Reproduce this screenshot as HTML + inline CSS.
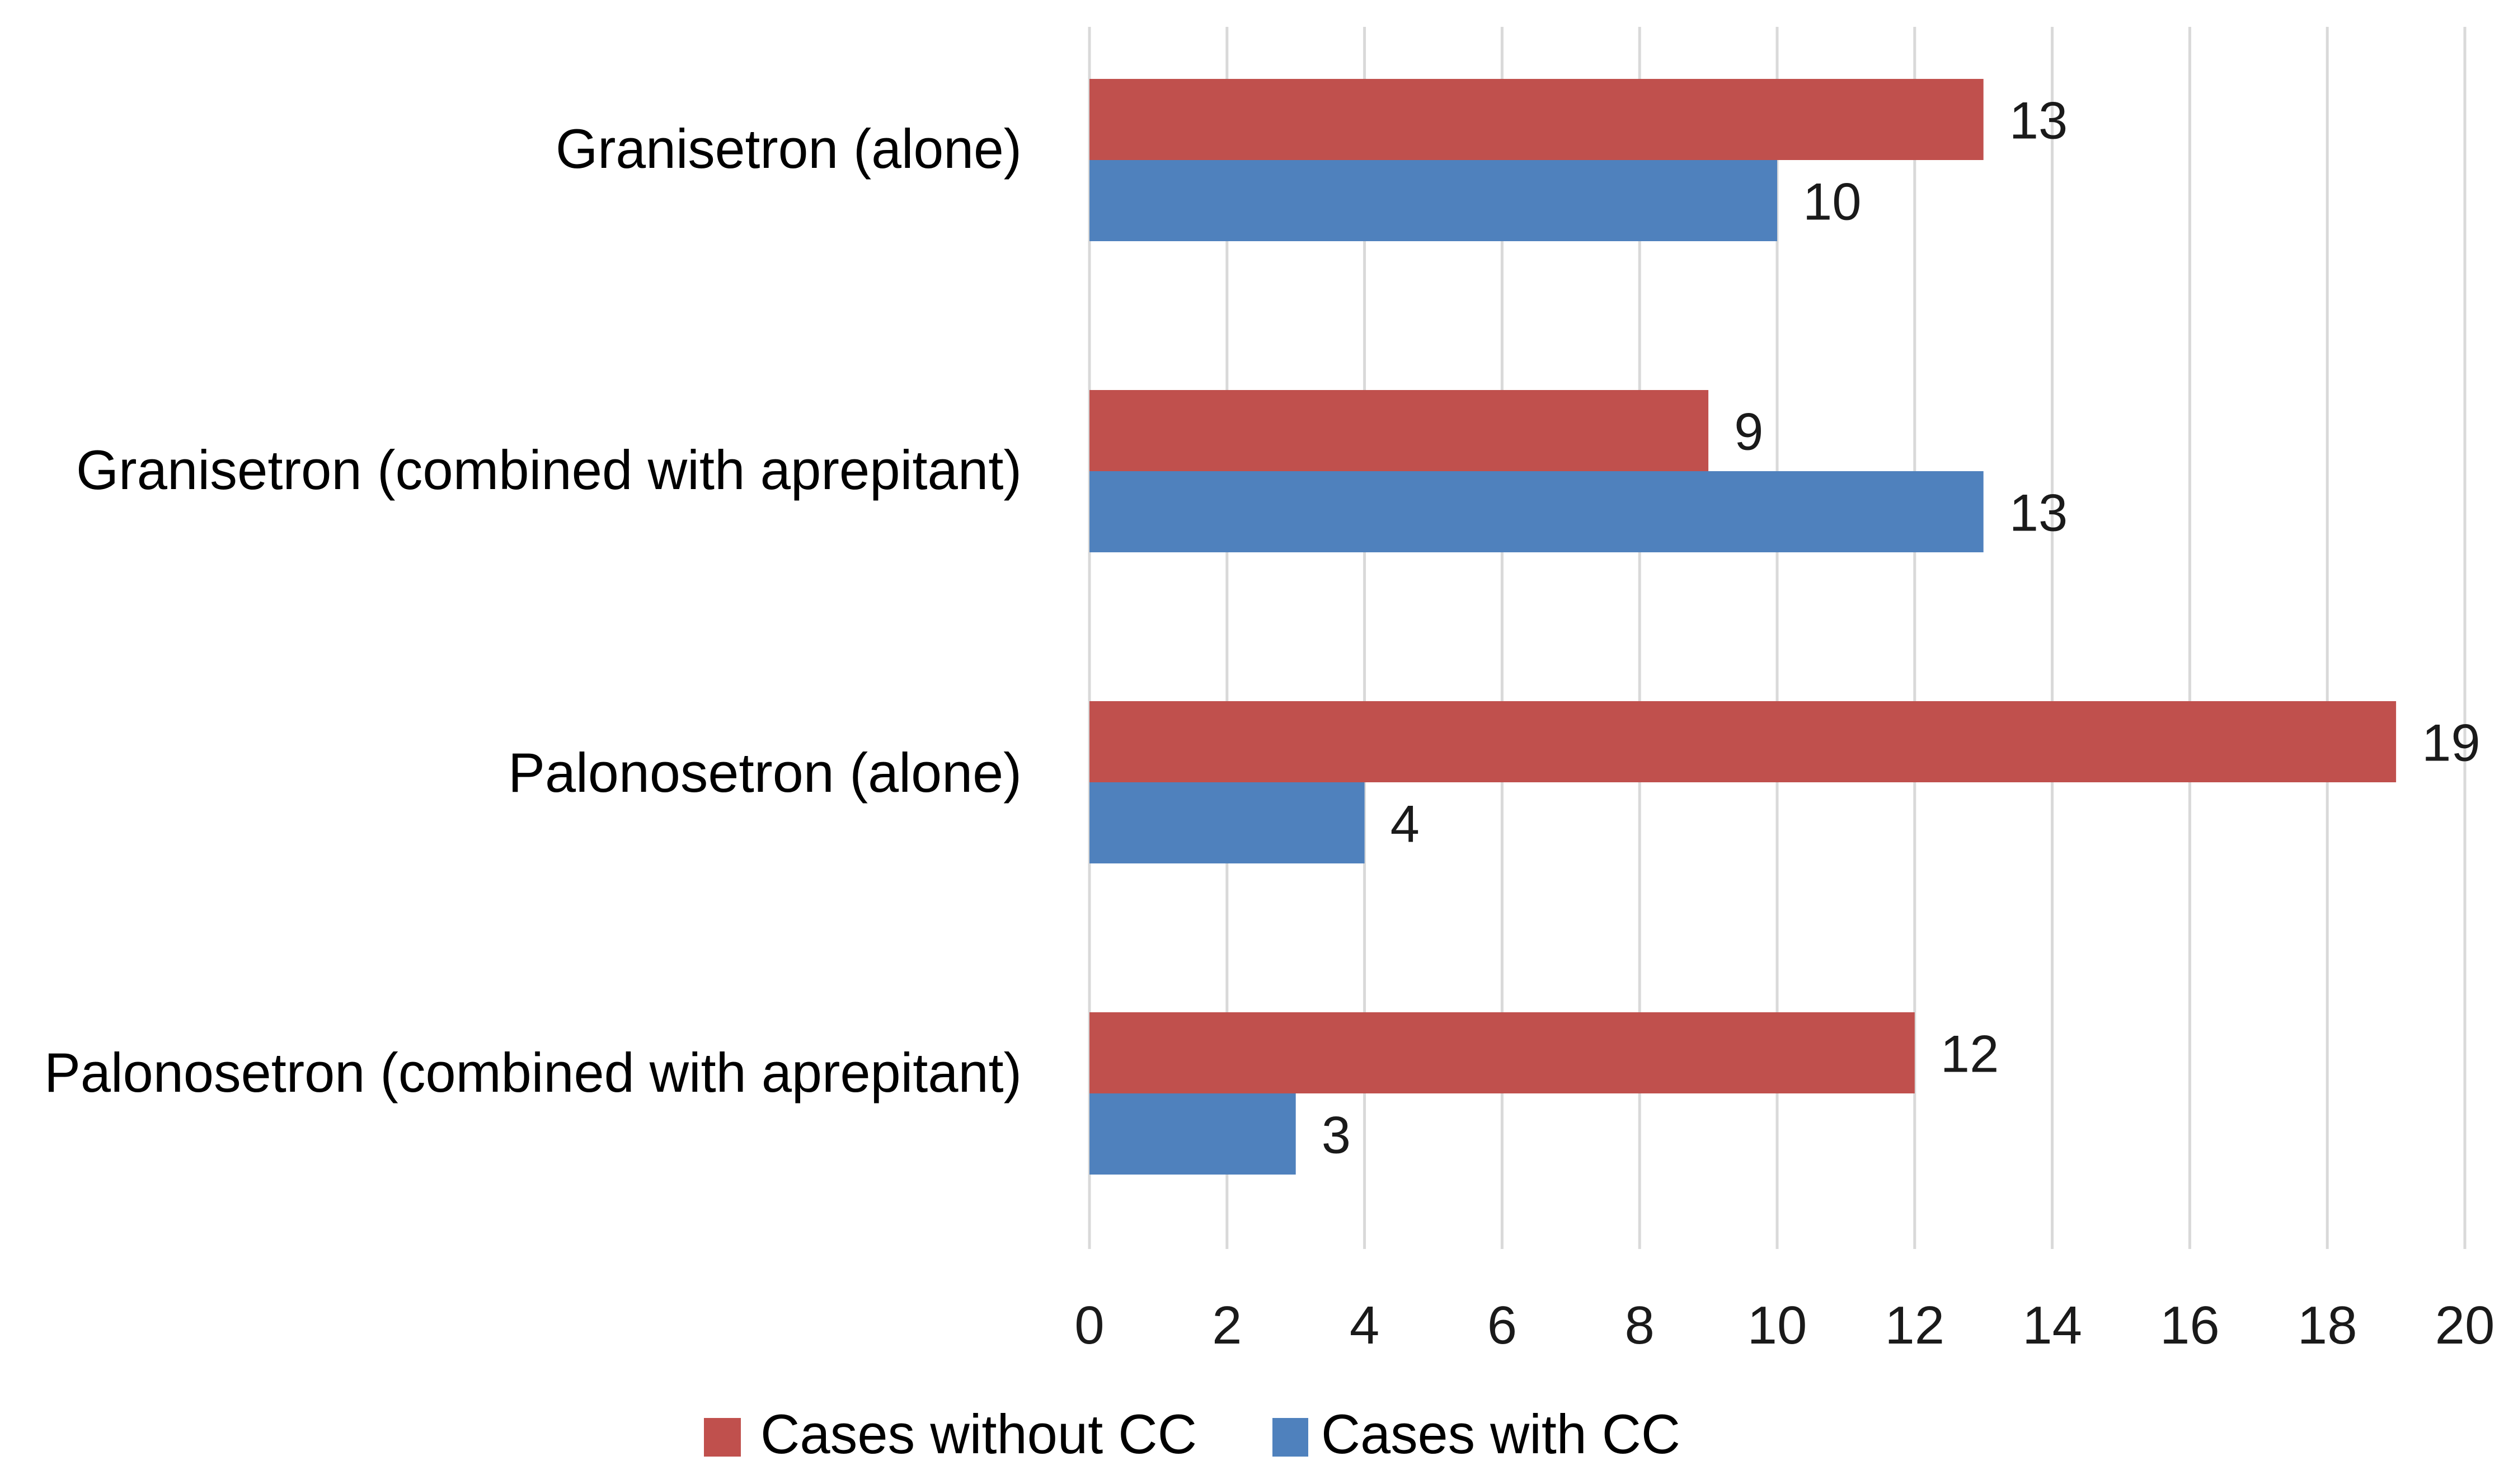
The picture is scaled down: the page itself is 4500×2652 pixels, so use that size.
<!DOCTYPE html>
<html><head><meta charset="utf-8">
<style>
html,body{margin:0;padding:0;background:#fff;}
svg{display:block;}
text{font-family:"Liberation Sans",sans-serif;}
</style></head>
<body>
<svg id="chart" width="4500" height="2652" viewBox="0 0 4500 2652" xmlns="http://www.w3.org/2000/svg">
<rect x="0" y="0" width="4500" height="2652" fill="#fff"/>
<g id="grid"></g>
<g id="bars"></g>
<g id="labels"></g>
<g>
  <g>
    <rect x="1258" y="2534" width="66" height="69" fill="#C0504D"/>
    <text x="1359" y="2597" font-size="99" fill="#000" textLength="780" lengthAdjust="spacingAndGlyphs">Cases without CC</text>
  </g>
  <g>
    <rect x="2274" y="2534" width="64" height="69" fill="#4F81BD"/>
    <text x="2361" y="2597" font-size="99" fill="#000" textLength="642" lengthAdjust="spacingAndGlyphs">Cases with CC</text>
  </g>
</g>
</svg>
<script>
const categories = ["Granisetron (alone)", "Granisetron (combined with aprepitant)", "Palonosetron (alone)", "Palonosetron (combined with aprepitant)"];
const withoutCC = [13, 9, 19, 12];
const withCC = [10, 13, 4, 3];
const xTicks = [0, 2, 4, 6, 8, 10, 12, 14, 16, 18, 20];
const labelWidths = [833, 1690, 918, 1747];

const NS = "http://www.w3.org/2000/svg";
const x0 = 1947, unit = 122.9;
function xScale(v){ return x0 + v * unit; }
const groupTop = 286, groupStep = 556, barH = 145;
function yCenter(i){ return groupTop + i * groupStep; }
const labelOffsets = [14, 32, 17, -3];

const grid = document.getElementById('grid');
const bars = document.getElementById('bars');
const labels = document.getElementById('labels');

function mk(tag, attrs, parent){
  const el = document.createElementNS(NS, tag);
  for (const k in attrs) el.setAttribute(k, attrs[k]);
  parent.appendChild(el);
  return el;
}

xTicks.forEach(function(t){
  const gx = xScale(t);
  const ln = mk('line', {x1: gx, x2: gx, y1: 48, y2: 2232, stroke: '#d9d9d9', 'stroke-width': 5}, grid);
  
  
  const tx = mk('text', {x: gx, y: 2401, 'font-size': 96, 'text-anchor': 'middle', fill: '#1a1a1a'}, labels);
  tx.textContent = String(t);
  
  
});

categories.forEach(function(c, i){
  const yc = yCenter(i);
  const r = mk('rect', {x: xScale(0), y: yc - barH, width: xScale(withoutCC[i]) - xScale(0), height: barH, fill: '#C0504D'}, bars);
  
  
  const b = mk('rect', {x: xScale(0), y: yc, width: xScale(withCC[i]) - xScale(0), height: barH, fill: '#4F81BD'}, bars);
  
  

  const v1 = mk('text', {x: xScale(withoutCC[i]) + 46, y: yc - barH / 2 + 34, 'font-size': 94, fill: '#1a1a1a'}, labels);
  v1.textContent = String(withoutCC[i]);
  
  
  const v2 = mk('text', {x: xScale(withCC[i]) + 46, y: yc + barH / 2 + 34, 'font-size': 94, fill: '#1a1a1a'}, labels);
  v2.textContent = String(withCC[i]);
  
  

  const cl = mk('text', {x: 1826, y: yc + labelOffsets[i], 'font-size': 99, 'text-anchor': 'end', fill: '#000', textLength: labelWidths[i], lengthAdjust: 'spacingAndGlyphs'}, labels);
  cl.textContent = c;
  
  
});
</script>
</body></html>
